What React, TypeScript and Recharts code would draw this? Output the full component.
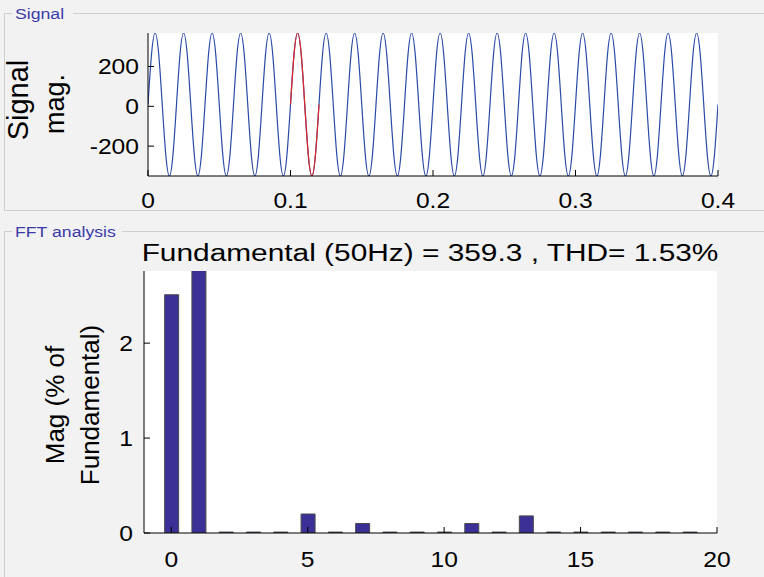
import { LineChart, Line, BarChart, Bar, XAxis, YAxis, CartesianGrid } from "recharts";

// time (s) and signal magnitude
const signalTime = [
  0, 0.0025, 0.005, 0.0075, 0.01, 0.0125, 0.015, 0.0175,
  0.02, 0.0225, 0.025, 0.0275, 0.03, 0.0325, 0.035, 0.0375,
  0.04, 0.0425, 0.045, 0.0475, 0.05, 0.0525, 0.055, 0.0575,
  0.06, 0.0625, 0.065, 0.0675, 0.07, 0.0725, 0.075, 0.0775,
  0.08, 0.0825, 0.085, 0.0875, 0.09, 0.0925, 0.095, 0.0975,
  0.1, 0.1025, 0.105, 0.1075, 0.11, 0.1125, 0.115, 0.1175,
  0.12, 0.1225, 0.125, 0.1275, 0.13, 0.1325, 0.135, 0.1375,
  0.14, 0.1425, 0.145, 0.1475, 0.15, 0.1525, 0.155, 0.1575,
  0.16, 0.1625, 0.165, 0.1675, 0.17, 0.1725, 0.175, 0.1775,
  0.18, 0.1825, 0.185, 0.1875, 0.19, 0.1925, 0.195, 0.1975,
  0.2, 0.2025, 0.205, 0.2075, 0.21, 0.2125, 0.215, 0.2175,
  0.22, 0.2225, 0.225, 0.2275, 0.23, 0.2325, 0.235, 0.2375,
  0.24, 0.2425, 0.245, 0.2475, 0.25, 0.2525, 0.255, 0.2575,
  0.26, 0.2625, 0.265, 0.2675, 0.27, 0.2725, 0.275, 0.2775,
  0.28, 0.2825, 0.285, 0.2875, 0.29, 0.2925, 0.295, 0.2975,
  0.3, 0.3025, 0.305, 0.3075, 0.31, 0.3125, 0.315, 0.3175,
  0.32, 0.3225, 0.325, 0.3275, 0.33, 0.3325, 0.335, 0.3375,
  0.34, 0.3425, 0.345, 0.3475, 0.35, 0.3525, 0.355, 0.3575,
  0.36, 0.3625, 0.365, 0.3675, 0.37, 0.3725, 0.375, 0.3775,
  0.38, 0.3825, 0.385, 0.3875, 0.39, 0.3925, 0.395, 0.3975,
  0.4,
];
const signalMag = [
  9, 263, 368, 263, 9, -245, -350, -245,
  9, 263, 368, 263, 9, -245, -350, -245,
  9, 263, 368, 263, 9, -245, -350, -245,
  9, 263, 368, 263, 9, -245, -350, -245,
  9, 263, 368, 263, 9, -245, -350, -245,
  9, 263, 368, 263, 9, -245, -350, -245,
  9, 263, 368, 263, 9, -245, -350, -245,
  9, 263, 368, 263, 9, -245, -350, -245,
  9, 263, 368, 263, 9, -245, -350, -245,
  9, 263, 368, 263, 9, -245, -350, -245,
  9, 263, 368, 263, 9, -245, -350, -245,
  9, 263, 368, 263, 9, -245, -350, -245,
  9, 263, 368, 263, 9, -245, -350, -245,
  9, 263, 368, 263, 9, -245, -350, -245,
  9, 263, 368, 263, 9, -245, -350, -245,
  9, 263, 368, 263, 9, -245, -350, -245,
  9, 263, 368, 263, 9, -245, -350, -245,
  9, 263, 368, 263, 9, -245, -350, -245,
  9, 263, 368, 263, 9, -245, -350, -245,
  9, 263, 368, 263, 9, -245, -350, -245,
  9,
];

// analysed cycle (red)
const windowTime = [0.1, 0.1025, 0.105, 0.1075, 0.11, 0.1125, 0.115, 0.1175, 0.12];
const windowMag = [9, 263, 368, 263, 9, -245, -350, -245, 9];

// harmonic spectrum, % of fundamental
const harmonicOrder = [0, 1, 2, 3, 4, 5, 6, 7, 8, 9, 10, 11, 12, 13, 14, 15, 16, 17, 18, 19];
const harmonicMag = [2.51, 100, 0.01, 0.01, 0.01, 0.2, 0.01, 0.1, 0.01, 0.01, 0.01, 0.1, 0.01, 0.18, 0.01, 0.01, 0.01, 0.01, 0.01, 0.01];

const signalTicksX = [0, 0.1, 0.2, 0.3, 0.4];
const signalTicksY = [-200, 0, 200];
const fftTicksX = [0, 5, 10, 15, 20];
const fftTicksY = [0, 1, 2];

const signalData = signalTime.map((t, i) => ({ t, v: signalMag[i] }));
const windowData = windowTime.map((t, i) => ({ t, v: windowMag[i] }));
const fftData = harmonicOrder.map((order, i) => ({ order, mag: harmonicMag[i] }));

const FONT = "'Liberation Sans', Arial, Helvetica, sans-serif";
const STRETCH = 1.12;

const XTick = (props: any) => {
  const { x, y, payload } = props;
  return (
    <text
      transform={`translate(${x},${y}) scale(${STRETCH},1)`}
      textAnchor="middle"
      dy="0.71em"
      fontSize={22}
      fontFamily={FONT}
      fill="#000"
    >
      {payload.value}
    </text>
  );
};

const YTick = (props: any) => {
  const { x, y, payload } = props;
  return (
    <text
      transform={`translate(${x},${y}) scale(${STRETCH},1)`}
      textAnchor="end"
      dy="0.36em"
      fontSize={22}
      fontFamily={FONT}
      fill="#000"
    >
      {payload.value}
    </text>
  );
};

const Frame = () => (
  <svg width={764} height={577} style={{ position: "absolute", left: 0, top: 0 }}>
    {/* group boxes */}
    <path d="M12,13.5 H4.5 V210.5 H764 M73,13.5 H764" fill="none" stroke="#cfcfcf" />
    <path d="M12,231.5 H4.5 V577 M122,231.5 H764" fill="none" stroke="#cfcfcf" />
    <text transform="translate(15,18.5) scale(1.22,1)" fontSize={14.5} fontFamily={FONT} fill="#3b3ba8">
      Signal
    </text>
    <text transform="translate(15,236.5) scale(1.22,1)" fontSize={14.5} fontFamily={FONT} fill="#3b3ba8">
      FFT analysis
    </text>

    {/* axis labels */}
    <g fontFamily={FONT} fill="#000" textAnchor="middle">
      <text transform="translate(28,100) rotate(-90)" fontSize={29}>Signal</text>
      <text transform="translate(64,104) rotate(-90)" fontSize={27}>mag.</text>
      <text transform="translate(64,405) rotate(-90)" fontSize={26}>Mag (% of</text>
      <text transform="translate(99,405) rotate(-90)" fontSize={26}>Fundamental)</text>
    </g>

    <text
      transform="translate(430,261) scale(1.27,1)"
      textAnchor="middle"
      fontSize={23.5}
      fontFamily={FONT}
      fill="#000"
    >
      Fundamental (50Hz) = 359.3 , THD= 1.53%
    </text>
  </svg>
);

const App = () => {
  return (
    <div
      style={{
        position: "fixed",
        left: 0,
        top: 0,
        width: 764,
        height: 577,
        background: "#f2f2f2",
        overflow: "hidden",
      }}
    >
      <Frame />

      <div style={{ position: "absolute", left: 0, top: 0 }}>
        <LineChart width={764} height={215} data={signalData} margin={{ top: 33, right: 46, bottom: 0, left: 0 }}>
          <CartesianGrid fill="#fff" horizontal={false} vertical={false} />
          <XAxis
            xAxisId="b"
            dataKey="t"
            type="number"
            domain={[0, 0.4]}
            ticks={signalTicksX}
            interval={0}
            allowDataOverflow
            tickSize={-6}
            tickMargin={22}
            tick={XTick}
            height={39}
            stroke="#000"
          />
          <XAxis
            xAxisId="t"
            orientation="top"
            type="number"
            domain={[0, 0.4]}
            ticks={signalTicksX}
            interval={0}
            allowDataOverflow
            tickSize={-6}
            tick={false}
            height={0}
            stroke="#000"
          />
          <YAxis
            yAxisId="l"
            type="number"
            domain={[-350, 368]}
            ticks={signalTicksY}
            interval={0}
            allowDataOverflow
            tickSize={-6}
            tickMargin={15}
            tick={YTick}
            width={148}
            stroke="#000"
          />
          <YAxis
            yAxisId="r"
            orientation="right"
            type="number"
            domain={[-350, 368]}
            ticks={signalTicksY}
            interval={0}
            allowDataOverflow
            tickSize={-6}
            tick={false}
            width={0}
            stroke="#000"
          />
          <Line
            xAxisId="b"
            yAxisId="l"
            dataKey="v"
            type="natural"
            stroke="#2b4ba8"
            strokeWidth={1.2}
            dot={false}
            isAnimationActive={false}
          />
          <Line
            xAxisId="b"
            yAxisId="l"
            data={windowData}
            dataKey="v"
            type="natural"
            stroke="#e02828"
            strokeWidth={1.2}
            dot={false}
            isAnimationActive={false}
          />
        </LineChart>
      </div>

      <div style={{ position: "absolute", left: 0, top: 215 }}>
        <BarChart width={764} height={362} data={fftData} margin={{ top: 56, right: 47, bottom: 0, left: 0 }}>
          <CartesianGrid fill="#fff" horizontal={false} vertical={false} />
          <XAxis
            xAxisId="b"
            dataKey="order"
            type="number"
            domain={[-1, 20]}
            ticks={fftTicksX}
            interval={0}
            allowDataOverflow
            tickSize={-6}
            tickMargin={24}
            tick={XTick}
            height={44}
            stroke="#000"
          />
          <XAxis
            xAxisId="t"
            orientation="top"
            type="number"
            domain={[-1, 20]}
            ticks={fftTicksX}
            interval={0}
            allowDataOverflow
            tickSize={-6}
            tick={false}
            height={0}
            stroke="#000"
          />
          <YAxis
            yAxisId="l"
            type="number"
            domain={[0, 2.76]}
            ticks={fftTicksY}
            interval={0}
            allowDataOverflow
            tickSize={-6}
            tickMargin={17}
            tick={YTick}
            width={144}
            stroke="#000"
          />
          <YAxis
            yAxisId="r"
            orientation="right"
            type="number"
            domain={[0, 2.76]}
            ticks={fftTicksY}
            interval={0}
            allowDataOverflow
            tickSize={-6}
            tick={false}
            width={0}
            stroke="#000"
          />
          <Bar
            xAxisId="b"
            yAxisId="l"
            dataKey="mag"
            barSize={14}
            fill="#3b3096"
            stroke="#4a4a4a"
            strokeWidth={1}
            isAnimationActive={false}
          />
        </BarChart>
      </div>
    </div>
  );
};

export default App;
